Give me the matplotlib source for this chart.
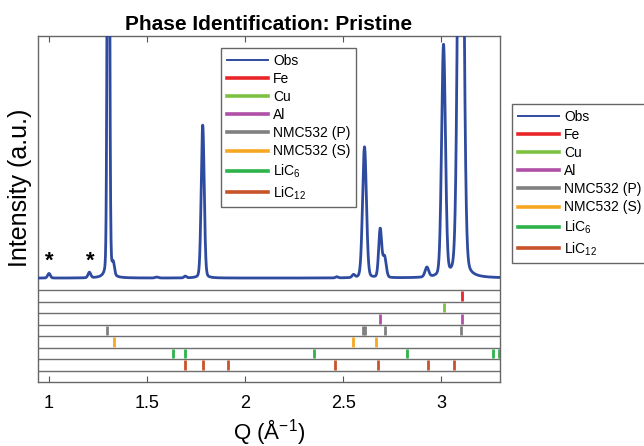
import numpy as np
import matplotlib
matplotlib.use("Agg")
import matplotlib.pyplot as plt
from matplotlib.lines import Line2D

plt.rcParams['font.family'] = ['Liberation Sans', 'DejaVu Sans']
plt.rcParams['mathtext.fontset'] = 'custom'
plt.rcParams['mathtext.rm'] = 'Liberation Sans'
plt.rcParams['mathtext.it'] = 'Liberation Sans:italic'
plt.rcParams['mathtext.bf'] = 'Liberation Sans:bold'

# ---- data ----
# observed pattern: peak list (Q, height in row units, FWHM in Q)
peak_q      = [1.000, 1.206, 1.303, 1.328, 1.550, 1.695, 1.784, 2.468, 2.553, 2.609, 2.689, 2.711, 2.927, 3.012, 3.100]
peak_height = [0.40,  0.48,  65.0,  1.0,   0.08,  0.15,  13.3,  0.10,  0.25,  11.4,  4.2,   1.8,   0.85,  20.1,  60.0]
peak_fwhm   = [0.016, 0.016, 0.012, 0.014, 0.020, 0.015, 0.018, 0.015, 0.016, 0.023, 0.018, 0.020, 0.022, 0.023, 0.030]
background = 1.04
star_q = [1.00, 1.21]
star_y = 2.5

phase_names = ['Fe', 'Cu', 'Al', 'NMC532 (P)', 'NMC532 (S)', 'LiC$_{6}$', 'LiC$_{12}$']
phase_colors = ['#e8262a', '#7dc142', '#b04fa8', '#808080', '#f7a823', '#2db34a', '#c8532a']
fe_q = [3.105]
cu_q = [3.012]
al_q = [2.689, 3.105]
nmcp_q = [1.298, 2.600, 2.611, 2.716, 3.102]
nmcs_q = [1.333, 2.549, 2.667]
lic6_q = [1.631, 1.694, 2.352, 2.825, 3.264, 3.295]
lic12_q = [1.692, 1.786, 1.913, 2.461, 2.680, 2.932, 3.066]
phase_q = [fe_q, cu_q, al_q, nmcp_q, nmcs_q, lic6_q, lic12_q]

x_ticks = [1, 1.5, 2, 2.5, 3]
x_tick_labels = ['1', '1.5', '2', '2.5', '3']
obs_color = '#2f4b9f'

# ---- build observed profile ----
q = np.arange(0.94, 3.305, 0.0005)
eta = 0.14
inten = np.full_like(q, background)
for c, h, w in zip(peak_q, peak_height, peak_fwhm):
    g = np.exp(-4 * np.log(2) * ((q - c) / w) ** 2)
    l = 1.0 / (1.0 + ((q - c) / (w / 2)) ** 2)
    inten += h * ((1 - eta) * g + eta * l)

fig = plt.figure(figsize=(6.44, 4.46), dpi=100)
ax = fig.add_axes([38/644, 1-382/446, 462/644, 346/446])
ax.plot(q, inten, color=obs_color, lw=2.0, zorder=3)
for sq in star_q:
    ax.text(sq, star_y, '*', ha='center', va='center', fontsize=16, fontweight='bold', color='black')

n_rows = len(phase_names) + 1
for i in range(n_rows):
    ax.axhline(-i, color='#6e6e6e', lw=1.0, zorder=2)
for i, (qs, col) in enumerate(zip(phase_q, phase_colors)):
    ax.vlines(qs, -i - 0.95, -i - 0.12, colors=col, lw=2.0, zorder=4)

ax.set_xlim(0.944, 3.30)
ax.set_ylim(-n_rows, 22.1)
ax.set_xticks(x_ticks)
ax.set_xticklabels(x_tick_labels)
ax.set_yticks([])
ax.tick_params(axis='x', direction='in', top=True, length=4, width=0.8, color='#555555',
               labelsize=13, pad=9)
for s in ax.spines.values():
    s.set_color('#666666')
    s.set_linewidth(1.0)

ax.set_title('Phase Identification: Pristine', fontsize=15, fontweight='bold', pad=4)
ax.set_xlabel('Q (Å$^{-1}$)', fontsize=16, labelpad=4)
ax.set_ylabel('Intensity (a.u.)', fontsize=18)
ax.yaxis.set_label_coords(-0.013, 0.56)

handles = [Line2D([], [], color=obs_color, lw=1.4)]
handles += [Line2D([], [], color=c, lw=2.6) for c in phase_colors]
labels = ['Obs'] + phase_names

leg_kw = dict(fontsize=10, handlelength=3.0, handletextpad=0.35, labelspacing=0.3,
              borderpad=0.4, borderaxespad=0, fancybox=False, framealpha=1,
              edgecolor='#666666', loc='upper left')
leg1 = ax.legend(handles, labels, bbox_to_anchor=(0.396, 0.965), **leg_kw)
leg1.get_frame().set_linewidth(1.0)
leg2 = fig.legend(handles, labels, bbox_to_anchor=(512/644, 1-104/446), **leg_kw)
leg2.get_frame().set_linewidth(1.0)

fig.savefig('out.png', dpi=100)
